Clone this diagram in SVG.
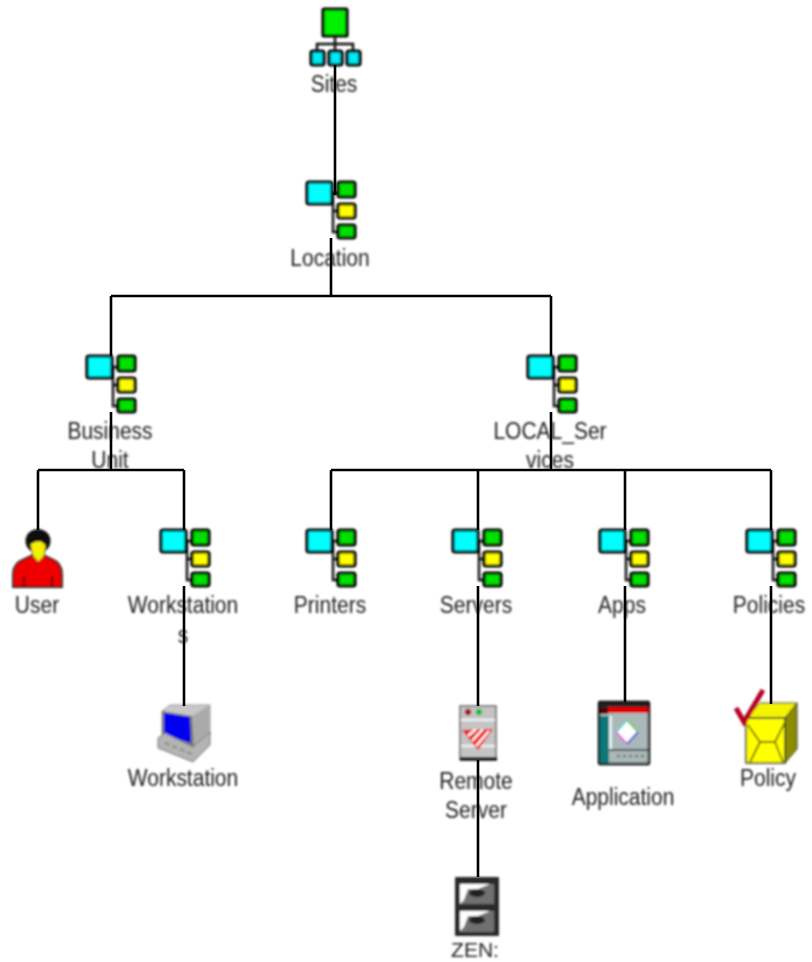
<svg xmlns="http://www.w3.org/2000/svg" xmlns:xlink="http://www.w3.org/1999/xlink" width="812" height="962" viewBox="0 0 812 962">
<style>
.c{fill:none;stroke:#000;stroke-width:2.6}
.l{font-family:"Liberation Sans",Arial,sans-serif;font-size:21px;fill:#222;text-anchor:middle}
.k{stroke:#000;stroke-width:3.2}
.t{stroke:#111;stroke-width:2.4;fill:none}
</style>
<defs>
<filter id="b" x="-5%" y="-5%" width="110%" height="110%"><feGaussianBlur stdDeviation="0.85"/></filter>
<filter id="s" filterUnits="userSpaceOnUse" x="0" y="0" width="812" height="962"><feGaussianBlur stdDeviation="0.4"/></filter>
<g id="box">
<path class="t" d="M331 193H338M333 193V232H338M333 211H338"/>
<rect class="k" x="307" y="182" width="25" height="22" rx="2" fill="#00ffff"/>
<rect class="k" x="338" y="182" width="17" height="15" rx="2" fill="#00e000"/>
<rect class="k" x="338" y="204" width="17" height="14" rx="2" fill="#ffff00"/>
<rect class="k" x="338" y="225" width="17" height="13" rx="2" fill="#00e000"/>
</g>
</defs>
<rect width="812" height="962" fill="#fff"/>
<g filter="url(#b)">
<g id="sites">
<path class="t" d="M335 36V51M317 51V44H353V51"/>
<rect class="k" x="323" y="9" width="24" height="27" rx="1" fill="#00f000"/>
<rect class="k" x="311" y="51" width="13" height="14" rx="2" fill="#00e8f0"/>
<rect class="k" x="329" y="51" width="13" height="14" rx="2" fill="#00e8f0"/>
<rect class="k" x="347" y="51" width="13" height="14" rx="2" fill="#00e8f0"/>
<text class="l" transform="translate(334 92) scale(1 1.1)">Sites</text>
</g>
<g id="location"><use xlink:href="#box"/><text class="l" transform="translate(330 266) scale(1 1.1)">Location</text></g>
<g id="business-unit"><use xlink:href="#box" x="-220" y="174"/><text class="l" transform="translate(110 439) scale(1 1.1)">Business</text><text class="l" transform="translate(110 468) scale(1 1.1)">Unit</text></g>
<g id="local-services"><use xlink:href="#box" x="221" y="174"/><text class="l" transform="translate(550 439) scale(1 1.1)">LOCAL_Ser</text><text class="l" transform="translate(550 468) scale(1 1.1)">vices</text></g>
<g id="user">
<path d="M13 587V574Q13 563 24 559L33 555H43L52 559Q62 563 62 574V587Z" fill="#ee0000" stroke="#222" stroke-width="1.8"/>
<path d="M24 587V576M52 587V576" stroke="#500" stroke-width="1.8"/>
<ellipse cx="38" cy="541" rx="12.5" ry="12" fill="#111"/>
<path d="M30 544L36 541H41L46 545L44 556L38 562L33 556Z" fill="#f4f000" stroke="#333" stroke-width="1"/>
<text class="l" transform="translate(37 613) scale(1 1.1)">User</text>
</g>
<g id="workstations"><use xlink:href="#box" x="-146" y="348"/><text class="l" transform="translate(183 613) scale(1 1.1)">Workstation</text><text class="l" transform="translate(183 643) scale(1 1.1)">s</text></g>
<g id="printers"><use xlink:href="#box" y="348"/><text class="l" transform="translate(330 613) scale(1 1.1)">Printers</text></g>
<g id="servers"><use xlink:href="#box" x="146" y="348"/><text class="l" transform="translate(476 613) scale(1 1.1)">Servers</text></g>
<g id="apps"><use xlink:href="#box" x="293" y="348"/><text class="l" transform="translate(622 613) scale(1 1.1)">Apps</text></g>
<g id="policies"><use xlink:href="#box" x="440" y="348"/><text class="l" transform="translate(769 613) scale(1 1.1)">Policies</text></g>
<g id="workstation">
<path d="M162 711L170 705H210V735L195 750L162 740Z" fill="#c8c8c8" stroke="#999" stroke-width="1"/>
<path d="M192 716L210 705V735L194 748Z" fill="#aaa"/>
<path d="M162 711L192 716L194 747L162 738Z" fill="#777"/>
<path d="M164 713L190 717L191 743L164 735Z" fill="#0000ee"/>
<path d="M158 738L165 733L193 747L210 732V745L193 762L158 748Z" fill="#b4b4b4" stroke="#777" stroke-width="1"/>
<path d="M165 743L192 754" stroke="#888" stroke-width="2" stroke-dasharray="5 3"/>
<text class="l" transform="translate(183 786) scale(1 1.1)">Workstation</text>
</g>
<g id="remote-server">
<rect x="460" y="706" width="36" height="54" fill="#c4c4c4" stroke="#666" stroke-width="1.5"/>
<rect x="460" y="757" width="37" height="3.5" fill="#111"/>
<circle cx="468" cy="712" r="3.2" fill="#a01818"/><circle cx="479" cy="712" r="3.2" fill="#10c040"/>
<path d="M461 720H495M461 746H495" stroke="#f0f0f0" stroke-width="2.5"/>
<path d="M462 730L493 729L478 750Z" fill="#f00000"/>
<path d="M468 736L476 729M472 741L483 729M476 746L489 731" stroke="#fff" stroke-width="2.4"/>
<text class="l" transform="translate(476 789) scale(1 1.1)">Remote</text><text class="l" transform="translate(476 818) scale(1 1.1)">Server</text>
</g>
<g id="zen">
<rect x="455" y="877" width="44" height="59" rx="1" fill="#2a2a2a"/>
<rect x="460" y="884" width="34" height="20" fill="#707070"/>
<rect x="460" y="911" width="34" height="21" fill="#707070"/>
<path d="M460 884H490L478 889H468L464 900L460 904Z" fill="#fff"/>
<path d="M460 911H490L478 916H468L464 927L460 931Z" fill="#fff"/>
<ellipse cx="477" cy="893" rx="8" ry="4" fill="#222"/><ellipse cx="477" cy="920" rx="8" ry="4" fill="#222"/>
<text class="l" x="475" y="957">ZEN:</text>
</g>
<g id="application">
<rect x="599" y="702" width="50" height="62" rx="1" fill="#aab8b8" stroke="#111" stroke-width="2.4"/>
<rect x="600" y="703" width="48" height="5" fill="#222"/>
<rect x="600" y="708" width="8" height="6" fill="#500"/>
<rect x="608" y="707" width="40" height="6" fill="#e00000"/>
<rect x="600" y="716" width="9" height="47" fill="#087878"/>
<rect x="609" y="716" width="3" height="33" fill="#e0f0f0"/>
<path d="M609 750H648" stroke="#333" stroke-width="1.4"/>
<path d="M627 720L638 732L627 744L616 732Z" fill="#fff"/>
<path d="M627 720L638 732" stroke="#70d070" stroke-width="2" fill="none"/>
<path d="M638 732L627 744" stroke="#5060e0" stroke-width="2" fill="none"/>
<path d="M627 744L616 732" stroke="#e060e0" stroke-width="2" fill="none"/>
<path d="M616 732L627 720" stroke="#60d0d0" stroke-width="2" fill="none"/>
<path d="M617 756H645" stroke="#777" stroke-width="2.5" stroke-dasharray="3 3"/>
<text class="l" transform="translate(623 805) scale(1 1.1)">Application</text>
</g>
<g id="policy">
<path d="M746 718L760 703H797L785 718Z" fill="#f4f400" stroke="#333" stroke-width="1"/>
<path d="M785 718L797 703V749L785 763Z" fill="#8c8c00" stroke="#333" stroke-width="1"/>
<rect x="746" y="718" width="39" height="45" fill="#ffff00" stroke="#333" stroke-width="1.5"/>
<path d="M748 725L760 742H775L785 722M750 762L760 742M775 742L783 762" fill="none" stroke="#777700" stroke-width="1.8"/>
<path d="M736 708L744 722L763 690" fill="none" stroke="#b80020" stroke-width="5"/>
<text class="l" transform="translate(768 786) scale(1 1.1)">Policy</text>
</g>
</g>
<g id="connectors" filter="url(#s)">
<path class="c" d="M335 65V195M331 238V296M111 296H551M111 296V356M551 296V356"/>
<path class="c" d="M111 412V470M38 470H184M38 470V530M184 470V530"/>
<path class="c" d="M551 412V470M331 470H771M331 470V530M478 470V530M625 470V530M771 470V530"/>
<path class="c" d="M184 586V706M478 586V706M625 586V702M771 586V704M478 760V877"/>
</g>
</svg>
